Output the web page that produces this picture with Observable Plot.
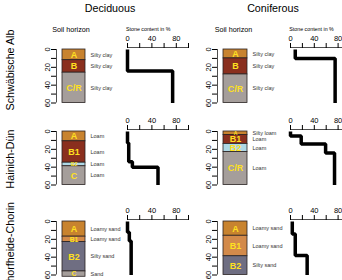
<!DOCTYPE html>
<html>
<head>
<meta charset="utf-8">
<script src="https://cdn.jsdelivr.net/npm/d3@7"></script>
<script src="https://cdn.jsdelivr.net/npm/@observablehq/plot@0.6"></script>
<style>
  html, body { margin: 0; padding: 0; background: #fff; }
  #figure { position: relative; width: 342px; height: 280px; overflow: hidden; font-family: "Liberation Sans", Arial, sans-serif; }
  #figure svg { position: absolute; overflow: visible; }
</style>
</head>
<body>
<div id="figure"></div>
<script>
// ---- data ---------------------------------------------------------------
const sites = ["Schwäbische Alb", "Hainich-Dün", "Schorfheide-Chorin"];
const stands = ["Deciduous", "Coniferous"];
const columnTitle = "Soil horizon";
const stoneTitle = "Stone content in %";

const depthTicks = [0, 10, 20, 30, 40, 50, 60];
const depthLabels = [0, 20, 40, 60];
const stoneTicks = [0, 20, 40, 60, 80, 100];
const stoneLabels = [0, 40, 80];

// horizons: [name, upper depth cm, lower depth cm, texture, material]
const albDeciduous = [
  ["A", 0, 12, "Silty clay", "humic"],
  ["B", 12, 26, "Silty clay", "clayey"],
  ["C/R", 26, 60, "Silty clay", "parent"]
];
const albConiferous = [
  ["A", 0, 10, "Silty clay", "humic"],
  ["B", 10, 28, "Silty clay", "clayey"],
  ["C/R", 28, 60, "Silty clay", "parent"]
];
const hainichDeciduous = [
  ["A", 0, 11, "Loam", "humic"],
  ["B1", 11, 35, "Loam", "clayey"],
  ["B2", 35, 39, "Loam", "gleyic"],
  ["C", 39, 60, "Loam", "parent"]
];
const hainichConiferous = [
  ["A", 0, 4, "Silty loam", "humic"],
  ["B1", 4, 14, "Loam", "clayey"],
  ["B2", 14, 23, "Loam", "gleyic"],
  ["C/R", 23, 60, "Loam", "parent"]
];
const schorfheideDeciduous = [
  ["A", 0, 17, "Loamy sand", "humic"],
  ["B1", 17, 23, "Loamy sand", "brown"],
  ["B2", 23, 56, "Silty sand", "sandy"],
  ["C", 56, 62, "Sand", "parent"]
];
const schorfheideConiferous = [
  ["A", 0, 16, "Loamy sand", "humic"],
  ["B1", 16, 39, "Loamy sand", "brown"],
  ["B2", 39, 60, "Silty sand", "sandy"]
];

// stone content: [upper depth cm, lower depth cm, percent]
const albDeciduousStone = [[0, 24, 0], [24, 60, 74]];
const albConiferousStone = [[0, 10, 8], [10, 60, 75]];
const hainichDeciduousStone = [[0, 13, 0], [13, 34, 2], [34, 40, 8], [40, 60, 50]];
const hainichConiferousStone = [[0, 5, 0], [5, 14, 18], [14, 24, 59], [24, 60, 74]];
const schorfheideDeciduousStone = [[0, 12, 0], [12, 22, 3], [22, 60, 6]];
const schorfheideConiferousStone = [[0, 14, 3], [14, 38, 8], [38, 60, 28]];

const materials = ["humic", "clayey", "parent", "gleyic", "sandy", "brown"];
const materialColors = ["#c8832f", "#8a2f1e", "#a59e9b", "#aed8e6", "#6f6e82", "#d38a4a"];

// ---- layout ---------------------------------------------------------------
const font = "Liberation Sans, Arial, Helvetica, sans-serif";
const rowTop = [49, 131.2, 220.5];     // depth 0 per row
const rowSpan = 53.5;                   // 0–60 cm
const columns = [
  {axis: 56, right: 85, stone0: 127.3, stone100: 188.3, title: 110, soil: 71, stoneTitle: 126},
  {axis: 216.7, right: 246.7, stone0: 290, stone100: 349.5, title: 273, soil: 233.5, stoneTitle: 289.3}
];
const rowLabelCenter = [70, 159, 248];

const profiles = [
  [albDeciduous, albDeciduousStone],
  [albConiferous, albConiferousStone],
  [hainichDeciduous, hainichDeciduousStone],
  [hainichConiferous, hainichConiferousStone],
  [schorfheideDeciduous, schorfheideDeciduousStone],
  [schorfheideConiferous, schorfheideConiferousStone]
];

const fig = document.getElementById("figure");
const pxPerCm = rowSpan / 60;

function place(svg, left, top) {
  svg.style.left = left + "px";
  svg.style.top = top + "px";
  fig.appendChild(svg);
}

function soilColumn(rows, y0, c) {
  const left = c.axis - 40, width = 130, mt = 10, mb = 10;
  const svg = Plot.plot({
    width, height: mt + rowSpan + mb,
    marginLeft: c.axis - left, marginRight: width - (c.right - left),
    marginTop: mt, marginBottom: mb,
    style: {fontFamily: font, background: "transparent", overflow: "visible"},
    x: {domain: [0, 1], axis: null},
    y: {domain: [0, 60], reverse: true, axis: null},
    color: {domain: materials, range: materialColors},
    marks: [
      Plot.rect(rows, {y1: "top", y2: "bottom", fill: "material", stroke: "#2a2222", strokeWidth: 0.8, insetLeft: 6}),
      Plot.text(rows, {
        y: d => (d.top + d.bottom) / 2, text: "name", frameAnchor: "middle", dx: 3,
        fill: "#ffe020", fontWeight: "bold",
        fontSize: d => Math.min(9, (d.bottom - d.top) * pxPerCm + 1.5)
      }),
      Plot.text(rows, {
        y: d => (d.top + d.bottom) / 2, text: "texture", frameAnchor: "right",
        textAnchor: "start", dx: 5, fontSize: 5.5, fill: "#333"
      }),
      Plot.ruleX([0], {y1: () => depthTicks[0], y2: () => depthTicks[depthTicks.length - 1], stroke: "#222", strokeWidth: 0.8}),
      Plot.axisY(depthTicks, {
        anchor: "left", label: null, tickSize: 5, tickPadding: 2, tickRotate: -90, fontSize: 7.5,
        tickFormat: d => depthLabels.includes(d) ? String(d) : ""
      })
    ]
  });
  place(svg, left, y0 - mt);
}

function stoneProfile(layers, y0, c) {
  const ml = 18, mr = 20, mt = 16, mb = 8;
  const width = ml + (c.stone100 - c.stone0) + mr;
  const points = layers.flatMap(d => [{depth: d.top, stone: d.stone}, {depth: d.bottom, stone: d.stone}]);
  const svg = Plot.plot({
    width, height: mt + 2 + rowSpan + mb,
    marginLeft: ml, marginRight: mr, marginTop: mt, marginBottom: mb,
    style: {fontFamily: font, background: "transparent", overflow: "visible"},
    x: {domain: [0, 100], axis: null},
    y: {domain: [0, 60], reverse: true, insetTop: 2, axis: null},
    marks: [
      Plot.ruleY([0], {dy: -2, stroke: "#222", strokeWidth: 0.8}),
      Plot.axisX(stoneTicks, {
        anchor: "top", label: null, tickSize: 5, tickPadding: 1.5, fontSize: 7.5,
        tickFormat: d => stoneLabels.includes(d) ? String(d) : ""
      }),
      Plot.line(points, {x: "stone", y: "depth", stroke: "#000", strokeWidth: 3.5,
        strokeLinejoin: "miter", strokeLinecap: "butt"})
    ]
  });
  place(svg, c.stone0 - ml, y0 - 2 - mt);
}

profiles.forEach(([hz, stone], i) => {
  const row = Math.floor(i / 2), c = columns[i % 2];
  const rows = hz.map(([name, top, bottom, texture, material]) => ({name, top, bottom, texture, material}));
  const layers = stone.map(([top, bottom, value]) => ({top, bottom, stone: value}));
  soilColumn(rows, rowTop[row], c);
  stoneProfile(layers, rowTop[row], c);
});

// ---- titles and row labels ------------------------------------------------
const overlay = d3.select(fig).append("svg")
  .attr("width", 342).attr("height", 280)
  .style("left", "0px").style("top", "0px")
  .attr("font-family", font);

stands.forEach((s, i) => {
  const c = columns[i];
  overlay.append("text").attr("x", c.title).attr("y", 11.8)
    .attr("text-anchor", "middle").attr("font-size", 10.7).text(s);
  overlay.append("text").attr("x", c.soil).attr("y", 31.5)
    .attr("text-anchor", "middle").attr("font-size", 7.2).text(columnTitle);
  overlay.append("text").attr("x", c.stoneTitle).attr("y", 30.5)
    .attr("text-anchor", "start").attr("font-size", 5.3).text(stoneTitle);
});

sites.forEach((s, i) => {
  overlay.append("text")
    .attr("transform", `translate(14.3,${rowLabelCenter[i]}) rotate(-90)`)
    .attr("text-anchor", "middle").attr("font-size", 10.7).text(s);
});
</script>
</body>
</html>
